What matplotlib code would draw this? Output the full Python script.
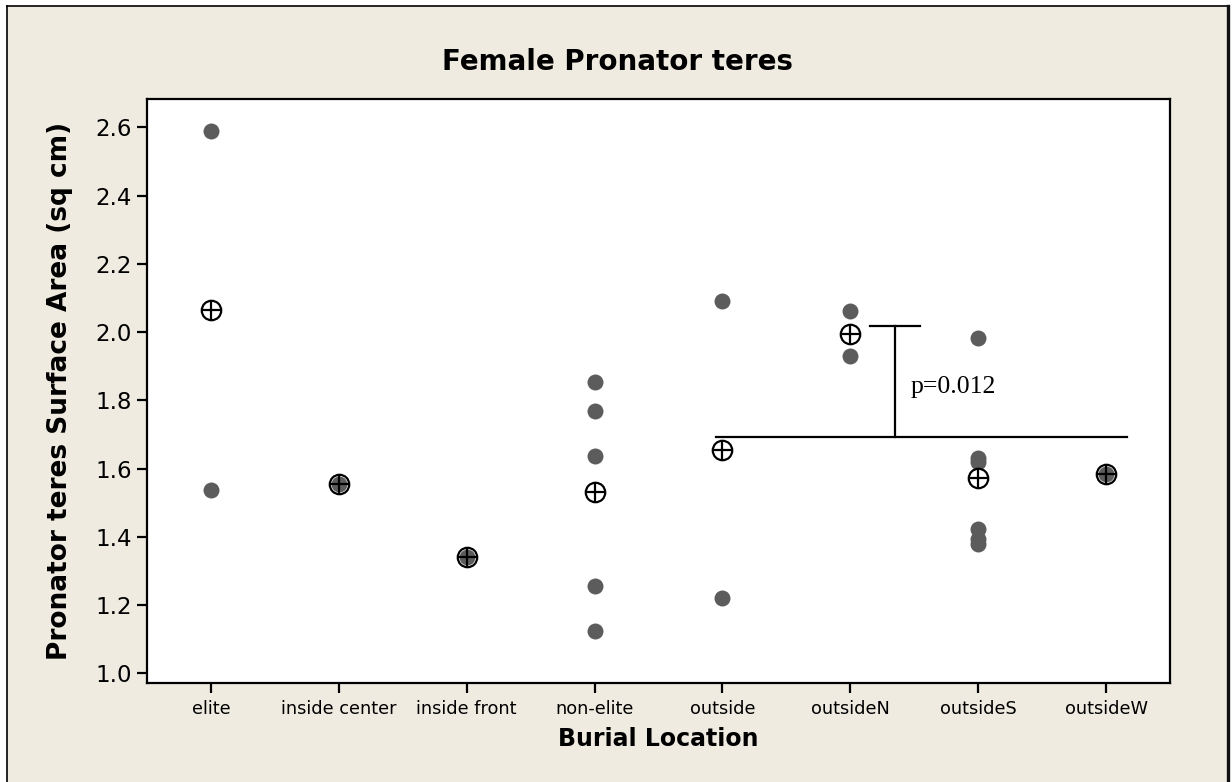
import matplotlib
matplotlib.use("Agg")
import matplotlib.pyplot as plt
from matplotlib.patches import Rectangle
from matplotlib.lines import Line2D

categories = ["elite", "inside center", "inside front", "non-elite",
              "outside", "outsideN", "outsideS", "outsideW"]
values = [
    [2.59, 1.537],
    [1.554],
    [1.340],
    [1.853, 1.768, 1.637, 1.257, 1.125],
    [2.090, 1.221],
    [2.061, 1.929],
    [1.983, 1.632, 1.618, 1.423, 1.395, 1.380],
    [1.583],
]
means = [2.066, 1.554, 1.340, 1.530, 1.653, 1.995, 1.571, 1.583]
yticks = [1.0, 1.2, 1.4, 1.6, 1.8, 2.0, 2.2, 2.4, 2.6]
p_text = "p=0.012"
bracket_y_low = 1.692
bracket_y_high = 2.019

BG = "#EFEBE1"
DOT = "#5c5c5c"

fig = plt.figure(figsize=(12.32, 7.82), dpi=100, facecolor="white")

# outer beige frame
fig.patches.append(Rectangle((6.5 / 1232, 0), (1227 - 6.5) / 1232, (782 - 5.5) / 782,
                             transform=fig.transFigure, facecolor=BG,
                             edgecolor="none", zorder=-10))
fig.lines.append(Line2D([6.5 / 1232, 6.5 / 1232], [0, (782 - 5.5) / 782],
                        transform=fig.transFigure, color="black", lw=1.2, zorder=-9))
fig.lines.append(Line2D([6.5 / 1232, 1228 / 1232], [(782 - 5.5) / 782] * 2,
                        transform=fig.transFigure, color="black", lw=1.2, zorder=-9))
fig.lines.append(Line2D([1228 / 1232, 1228 / 1232], [0, (782 - 5.5) / 782],
                        transform=fig.transFigure, color="#111111", lw=2.4, zorder=-9))

ax = fig.add_axes([147 / 1232, (782 - 683) / 782, (1170 - 147) / 1232, (683 - 99.3) / 782])
ax.set_facecolor("white")

xs = list(range(1, len(categories) + 1))
for x, vals in zip(xs, values):
    ax.plot([x] * len(vals), vals, linestyle="none", marker="o", ms=11.5,
            mfc=DOT, mec=DOT, mew=0, zorder=3)

for x, m, vals in zip(xs, means, values):
    face = "white" if len(vals) > 1 else "none"
    ax.plot([x], [m], linestyle="none", marker="o", ms=14, mfc=face,
            mec="black", mew=1.6, zorder=4)
    ax.plot([x], [m], linestyle="none", marker="+", ms=14, mec="black",
            mew=1.6, zorder=5)

# significance bracket
ax.plot([4.947, 8.163], [bracket_y_low, bracket_y_low], color="black", lw=1.6, zorder=2)
ax.plot([6.353, 6.353], [bracket_y_low, bracket_y_high], color="black", lw=1.6, zorder=2)
ax.plot([6.152, 6.548], [bracket_y_high, bracket_y_high], color="black", lw=1.6, zorder=2)
ax.text(6.47, 1.84, p_text, fontsize=18.5, family="Liberation Serif",
        ha="left", va="center")

ax.set_xlim(0.5, 8.5)
ax.set_ylim(0.9716, 2.682)
ax.set_xticks(xs)
ax.set_xticklabels(categories, fontsize=12.8, family="DejaVu Sans")
ax.set_yticks(yticks)
ax.set_yticklabels([f"{v:.1f}" for v in yticks], fontsize=16.5, family="DejaVu Sans")
ax.tick_params(axis="both", direction="out", length=7, width=1.6, color="black")
ax.tick_params(axis="x", pad=5)
ax.tick_params(axis="y", pad=4)
for s in ax.spines.values():
    s.set_linewidth(1.6)
    s.set_color("black")

ax.set_xlabel("Burial Location", fontsize=17, fontweight="bold", labelpad=7)
ax.set_ylabel("Pronator teres Surface Area (sq cm)", fontsize=19,
              fontweight="bold", labelpad=16)
fig.text(617 / 1232, (782 - 62) / 782, "Female Pronator teres", fontsize=20,
         fontweight="bold", ha="center", va="center")

fig.savefig("out.png", dpi=100, facecolor="white")
